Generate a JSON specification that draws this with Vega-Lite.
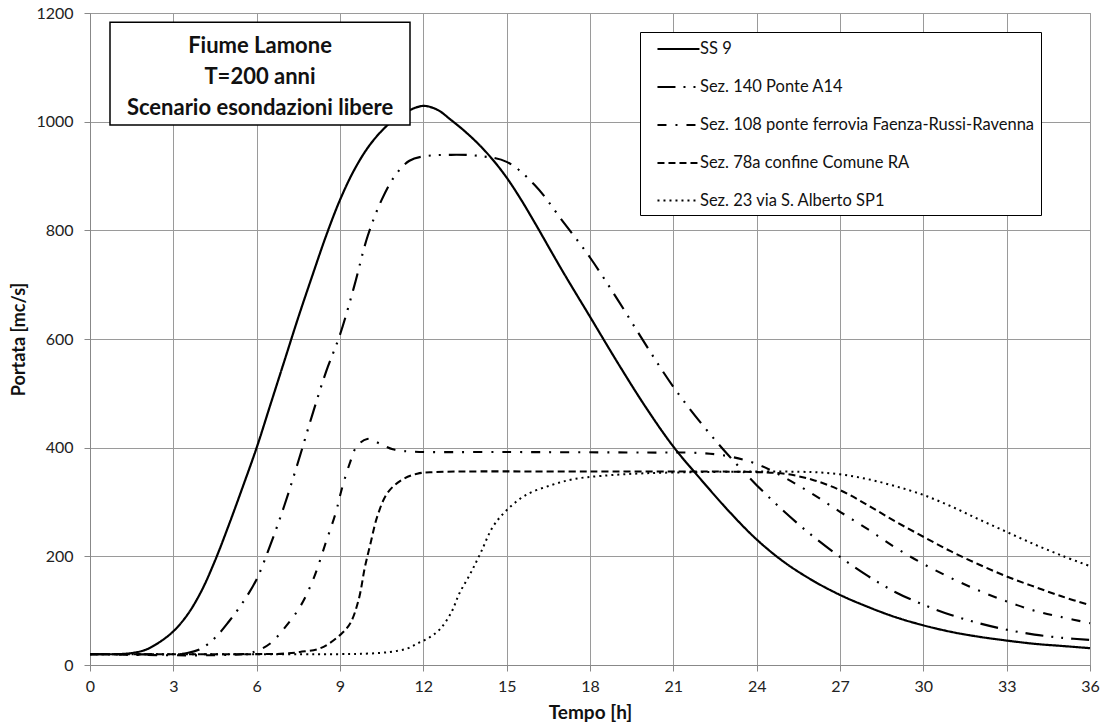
{
 "$schema": "https://vega.github.io/schema/vega-lite/v6.json",
 "width": 1000, "height": 652,
 "autosize": {"type": "none"},
 "padding": {"left": 90, "top": 13, "right": 15, "bottom": 61},
 "background": "white",
 "config": {"font": "Lato", "view": {"stroke": "#808080", "strokeWidth": 1}},
 "layer": [
  {
   "data": {"values": [
    {"s":"SS 9","t":0,"q":20},{"s":"SS 9","t":1,"q":20},{"s":"SS 9","t":1.5,"q":22},{"s":"SS 9","t":2,"q":28},{"s":"SS 9","t":2.5,"q":42},{"s":"SS 9","t":3,"q":62},{"s":"SS 9","t":3.5,"q":92},{"s":"SS 9","t":4,"q":135},{"s":"SS 9","t":4.5,"q":192},{"s":"SS 9","t":5,"q":258},{"s":"SS 9","t":5.5,"q":328},{"s":"SS 9","t":6,"q":400},{"s":"SS 9","t":6.5,"q":480},{"s":"SS 9","t":7,"q":560},{"s":"SS 9","t":7.5,"q":640},{"s":"SS 9","t":8,"q":716},{"s":"SS 9","t":8.5,"q":790},{"s":"SS 9","t":9,"q":856},{"s":"SS 9","t":9.5,"q":910},{"s":"SS 9","t":10,"q":952},{"s":"SS 9","t":10.5,"q":983},{"s":"SS 9","t":11,"q":1006},{"s":"SS 9","t":11.5,"q":1021},{"s":"SS 9","t":12,"q":1029},{"s":"SS 9","t":12.5,"q":1022},{"s":"SS 9","t":13,"q":1003},{"s":"SS 9","t":13.5,"q":982},{"s":"SS 9","t":14,"q":958},{"s":"SS 9","t":14.5,"q":930},{"s":"SS 9","t":15,"q":897},{"s":"SS 9","t":15.5,"q":858},{"s":"SS 9","t":16,"q":815},{"s":"SS 9","t":17,"q":726},{"s":"SS 9","t":18,"q":641},{"s":"SS 9","t":19,"q":556},{"s":"SS 9","t":20,"q":475},{"s":"SS 9","t":21,"q":402},{"s":"SS 9","t":22,"q":341},{"s":"SS 9","t":23,"q":283},{"s":"SS 9","t":24,"q":231},{"s":"SS 9","t":25,"q":189},{"s":"SS 9","t":26,"q":156},{"s":"SS 9","t":27,"q":129},{"s":"SS 9","t":28,"q":107},{"s":"SS 9","t":29,"q":88},{"s":"SS 9","t":30,"q":73},{"s":"SS 9","t":31,"q":61},{"s":"SS 9","t":32,"q":52},{"s":"SS 9","t":33,"q":45},{"s":"SS 9","t":34,"q":39},{"s":"SS 9","t":35,"q":35},{"s":"SS 9","t":36,"q":31},

    {"s":"Sez. 140 Ponte A14","t":0,"q":20},{"s":"Sez. 140 Ponte A14","t":3,"q":20},{"s":"Sez. 140 Ponte A14","t":3.5,"q":22},{"s":"Sez. 140 Ponte A14","t":4,"q":30},{"s":"Sez. 140 Ponte A14","t":4.5,"q":50},{"s":"Sez. 140 Ponte A14","t":5,"q":80},{"s":"Sez. 140 Ponte A14","t":5.5,"q":115},{"s":"Sez. 140 Ponte A14","t":6,"q":158},{"s":"Sez. 140 Ponte A14","t":6.5,"q":222},{"s":"Sez. 140 Ponte A14","t":7,"q":294},{"s":"Sez. 140 Ponte A14","t":7.5,"q":375},{"s":"Sez. 140 Ponte A14","t":8,"q":460},{"s":"Sez. 140 Ponte A14","t":8.5,"q":540},{"s":"Sez. 140 Ponte A14","t":9,"q":608},{"s":"Sez. 140 Ponte A14","t":9.5,"q":695},{"s":"Sez. 140 Ponte A14","t":10,"q":790},{"s":"Sez. 140 Ponte A14","t":10.5,"q":856},{"s":"Sez. 140 Ponte A14","t":11,"q":902},{"s":"Sez. 140 Ponte A14","t":11.5,"q":928},{"s":"Sez. 140 Ponte A14","t":12,"q":936},{"s":"Sez. 140 Ponte A14","t":13,"q":939},{"s":"Sez. 140 Ponte A14","t":14,"q":937},{"s":"Sez. 140 Ponte A14","t":15,"q":926},{"s":"Sez. 140 Ponte A14","t":16,"q":884},{"s":"Sez. 140 Ponte A14","t":17,"q":818},{"s":"Sez. 140 Ponte A14","t":18,"q":750},{"s":"Sez. 140 Ponte A14","t":19,"q":672},{"s":"Sez. 140 Ponte A14","t":20,"q":590},{"s":"Sez. 140 Ponte A14","t":21,"q":512},{"s":"Sez. 140 Ponte A14","t":22,"q":445},{"s":"Sez. 140 Ponte A14","t":23,"q":385},{"s":"Sez. 140 Ponte A14","t":24,"q":331},{"s":"Sez. 140 Ponte A14","t":25,"q":282},{"s":"Sez. 140 Ponte A14","t":26,"q":238},{"s":"Sez. 140 Ponte A14","t":27,"q":199},{"s":"Sez. 140 Ponte A14","t":28,"q":164},{"s":"Sez. 140 Ponte A14","t":29,"q":134},{"s":"Sez. 140 Ponte A14","t":30,"q":111},{"s":"Sez. 140 Ponte A14","t":31,"q":92},{"s":"Sez. 140 Ponte A14","t":32,"q":77},{"s":"Sez. 140 Ponte A14","t":33,"q":65},{"s":"Sez. 140 Ponte A14","t":34,"q":56},{"s":"Sez. 140 Ponte A14","t":35,"q":50},{"s":"Sez. 140 Ponte A14","t":36,"q":46},

    {"s":"Sez. 108 ponte ferrovia Faenza-Russi-Ravenna","t":0,"q":20},{"s":"Sez. 108 ponte ferrovia Faenza-Russi-Ravenna","t":5.5,"q":20},{"s":"Sez. 108 ponte ferrovia Faenza-Russi-Ravenna","t":6,"q":26},{"s":"Sez. 108 ponte ferrovia Faenza-Russi-Ravenna","t":6.5,"q":40},{"s":"Sez. 108 ponte ferrovia Faenza-Russi-Ravenna","t":7,"q":68},{"s":"Sez. 108 ponte ferrovia Faenza-Russi-Ravenna","t":7.56,"q":107},{"s":"Sez. 108 ponte ferrovia Faenza-Russi-Ravenna","t":8.04,"q":158},{"s":"Sez. 108 ponte ferrovia Faenza-Russi-Ravenna","t":8.48,"q":224},{"s":"Sez. 108 ponte ferrovia Faenza-Russi-Ravenna","t":8.84,"q":279},{"s":"Sez. 108 ponte ferrovia Faenza-Russi-Ravenna","t":9.07,"q":325},{"s":"Sez. 108 ponte ferrovia Faenza-Russi-Ravenna","t":9.37,"q":374},{"s":"Sez. 108 ponte ferrovia Faenza-Russi-Ravenna","t":9.6,"q":402},{"s":"Sez. 108 ponte ferrovia Faenza-Russi-Ravenna","t":9.98,"q":416},{"s":"Sez. 108 ponte ferrovia Faenza-Russi-Ravenna","t":10.45,"q":407},{"s":"Sez. 108 ponte ferrovia Faenza-Russi-Ravenna","t":10.9,"q":397},{"s":"Sez. 108 ponte ferrovia Faenza-Russi-Ravenna","t":11.5,"q":393},{"s":"Sez. 108 ponte ferrovia Faenza-Russi-Ravenna","t":15,"q":392},{"s":"Sez. 108 ponte ferrovia Faenza-Russi-Ravenna","t":20,"q":391},{"s":"Sez. 108 ponte ferrovia Faenza-Russi-Ravenna","t":22,"q":390},{"s":"Sez. 108 ponte ferrovia Faenza-Russi-Ravenna","t":23,"q":384},{"s":"Sez. 108 ponte ferrovia Faenza-Russi-Ravenna","t":24,"q":370},{"s":"Sez. 108 ponte ferrovia Faenza-Russi-Ravenna","t":25,"q":345},{"s":"Sez. 108 ponte ferrovia Faenza-Russi-Ravenna","t":26,"q":315},{"s":"Sez. 108 ponte ferrovia Faenza-Russi-Ravenna","t":27,"q":282},{"s":"Sez. 108 ponte ferrovia Faenza-Russi-Ravenna","t":28,"q":250},{"s":"Sez. 108 ponte ferrovia Faenza-Russi-Ravenna","t":29,"q":216},{"s":"Sez. 108 ponte ferrovia Faenza-Russi-Ravenna","t":30,"q":186},{"s":"Sez. 108 ponte ferrovia Faenza-Russi-Ravenna","t":31,"q":160},{"s":"Sez. 108 ponte ferrovia Faenza-Russi-Ravenna","t":32,"q":137},{"s":"Sez. 108 ponte ferrovia Faenza-Russi-Ravenna","t":33,"q":117},{"s":"Sez. 108 ponte ferrovia Faenza-Russi-Ravenna","t":34,"q":100},{"s":"Sez. 108 ponte ferrovia Faenza-Russi-Ravenna","t":35,"q":88},{"s":"Sez. 108 ponte ferrovia Faenza-Russi-Ravenna","t":36,"q":77},

    {"s":"Sez. 78a confine Comune RA","t":0,"q":20},{"s":"Sez. 78a confine Comune RA","t":6,"q":20},{"s":"Sez. 78a confine Comune RA","t":7,"q":21},{"s":"Sez. 78a confine Comune RA","t":7.56,"q":24},{"s":"Sez. 78a confine Comune RA","t":8.3,"q":31},{"s":"Sez. 78a confine Comune RA","t":9,"q":55},{"s":"Sez. 78a confine Comune RA","t":9.37,"q":77},{"s":"Sez. 78a confine Comune RA","t":9.67,"q":120},{"s":"Sez. 78a confine Comune RA","t":9.9,"q":181},{"s":"Sez. 78a confine Comune RA","t":10.1,"q":224},{"s":"Sez. 78a confine Comune RA","t":10.34,"q":273},{"s":"Sez. 78a confine Comune RA","t":10.7,"q":316},{"s":"Sez. 78a confine Comune RA","t":11.2,"q":340},{"s":"Sez. 78a confine Comune RA","t":11.78,"q":352},{"s":"Sez. 78a confine Comune RA","t":12.4,"q":355},{"s":"Sez. 78a confine Comune RA","t":18,"q":356},{"s":"Sez. 78a confine Comune RA","t":24,"q":355},{"s":"Sez. 78a confine Comune RA","t":25,"q":352},{"s":"Sez. 78a confine Comune RA","t":26,"q":341},{"s":"Sez. 78a confine Comune RA","t":27,"q":322},{"s":"Sez. 78a confine Comune RA","t":28,"q":294},{"s":"Sez. 78a confine Comune RA","t":29,"q":264},{"s":"Sez. 78a confine Comune RA","t":30,"q":236},{"s":"Sez. 78a confine Comune RA","t":31,"q":209},{"s":"Sez. 78a confine Comune RA","t":32,"q":185},{"s":"Sez. 78a confine Comune RA","t":33,"q":163},{"s":"Sez. 78a confine Comune RA","t":34,"q":144},{"s":"Sez. 78a confine Comune RA","t":35,"q":126},{"s":"Sez. 78a confine Comune RA","t":36,"q":110},

    {"s":"Sez. 23 via S. Alberto SP1","t":0,"q":20},{"s":"Sez. 23 via S. Alberto SP1","t":9,"q":20},{"s":"Sez. 23 via S. Alberto SP1","t":10,"q":21},{"s":"Sez. 23 via S. Alberto SP1","t":10.8,"q":24},{"s":"Sez. 23 via S. Alberto SP1","t":11.4,"q":30},{"s":"Sez. 23 via S. Alberto SP1","t":11.8,"q":40},{"s":"Sez. 23 via S. Alberto SP1","t":12.2,"q":50},{"s":"Sez. 23 via S. Alberto SP1","t":12.6,"q":66},{"s":"Sez. 23 via S. Alberto SP1","t":13,"q":96},{"s":"Sez. 23 via S. Alberto SP1","t":13.3,"q":132},{"s":"Sez. 23 via S. Alberto SP1","t":13.7,"q":169},{"s":"Sez. 23 via S. Alberto SP1","t":14.06,"q":206},{"s":"Sez. 23 via S. Alberto SP1","t":14.5,"q":254},{"s":"Sez. 23 via S. Alberto SP1","t":15,"q":285},{"s":"Sez. 23 via S. Alberto SP1","t":15.7,"q":313},{"s":"Sez. 23 via S. Alberto SP1","t":16.6,"q":331},{"s":"Sez. 23 via S. Alberto SP1","t":17.4,"q":342},{"s":"Sez. 23 via S. Alberto SP1","t":18.4,"q":348},{"s":"Sez. 23 via S. Alberto SP1","t":20,"q":353},{"s":"Sez. 23 via S. Alberto SP1","t":22,"q":355},{"s":"Sez. 23 via S. Alberto SP1","t":24,"q":356},{"s":"Sez. 23 via S. Alberto SP1","t":26,"q":355},{"s":"Sez. 23 via S. Alberto SP1","t":27,"q":351},{"s":"Sez. 23 via S. Alberto SP1","t":28,"q":342},{"s":"Sez. 23 via S. Alberto SP1","t":29,"q":329},{"s":"Sez. 23 via S. Alberto SP1","t":30,"q":313},{"s":"Sez. 23 via S. Alberto SP1","t":31,"q":292},{"s":"Sez. 23 via S. Alberto SP1","t":32,"q":268},{"s":"Sez. 23 via S. Alberto SP1","t":33,"q":245},{"s":"Sez. 23 via S. Alberto SP1","t":34,"q":222},{"s":"Sez. 23 via S. Alberto SP1","t":35,"q":201},{"s":"Sez. 23 via S. Alberto SP1","t":36,"q":182}
   ]},
   "mark": {"type": "line", "interpolate": "catmull-rom", "color": "black", "strokeCap": "butt"},
   "encoding": {
    "x": {"field": "t", "type": "quantitative", "scale": {"domain": [0, 36], "nice": false},
      "axis": {"values": [0,3,6,9,12,15,18,21,24,27,30,33,36], "format": "d", "title": "Tempo [h]", "titleFontSize": 19, "titleFontWeight": "bold", "titleColor": "#111", "labelFontSize": 16, "labelColor": "#222", "tickSize": 6, "tickColor": "#888", "domainColor": "#888", "gridColor": "#9a9a9a", "labelPadding": 7, "titlePadding": 9, "labelFlush": false}},
    "y": {"field": "q", "type": "quantitative", "scale": {"domain": [0, 1200], "nice": false},
      "axis": {"values": [0,200,400,600,800,1000,1200], "format": "d", "title": "Portata [mc/s]", "titleFontSize": 18, "titleFontWeight": "bold", "titleColor": "#111", "labelFontSize": 16, "labelColor": "#222", "tickSize": 6, "tickColor": "#888", "domainColor": "#888", "gridColor": "#9a9a9a", "labelPadding": 11, "titlePadding": 7, "labelFlush": false}},
    "strokeDash": {"field": "s", "type": "nominal",
      "scale": {"domain": ["SS 9", "Sez. 140 Ponte A14", "Sez. 108 ponte ferrovia Faenza-Russi-Ravenna", "Sez. 78a confine Comune RA", "Sez. 23 via S. Alberto SP1"],
                "range": [[1, 0], [18, 8, 2, 8, 2, 8], [9, 9, 2, 9], [7, 4], [2, 4]]},
      "legend": {"title": null, "orient": "none", "legendX": 550, "legendY": 19, "fillColor": "white", "strokeColor": "black", "padding": 6,
                 "symbolType": "M0.05,0L4.47,0", "symbolSize": 361, "symbolStrokeWidth": 2, "symbolStrokeColor": "black", "symbolFillColor": "transparent",
                 "labelFontSize": 16.5, "labelColor": "#111", "labelOffset": 32, "rowPadding": 18, "labelLimit": 500}},
    "strokeWidth": {"field": "s", "type": "nominal",
      "scale": {"domain": ["SS 9", "Sez. 140 Ponte A14", "Sez. 108 ponte ferrovia Faenza-Russi-Ravenna", "Sez. 78a confine Comune RA", "Sez. 23 via S. Alberto SP1"],
                "range": [2.2, 2, 2, 2, 1.5]},
      "legend": null}
   }
  },
  {
   "data": {"values": [{}]},
   "mark": {"type": "rect", "fill": "white", "stroke": "black", "strokeWidth": 1.5},
   "encoding": {"x": {"datum": 0.72}, "x2": {"datum": 11.52}, "y": {"datum": 1183}, "y2": {"datum": 994}}
  },
  {
   "data": {"values": [{}]},
   "mark": {"type": "text", "fontSize": 22, "fontWeight": "bold", "lineHeight": 31, "align": "center", "baseline": "middle", "color": "#111"},
   "encoding": {"x": {"datum": 6.12}, "y": {"datum": 1139}, "text": {"value": ["Fiume Lamone", "T=200 anni", "Scenario esondazioni libere"]}}
  }
 ]
}
